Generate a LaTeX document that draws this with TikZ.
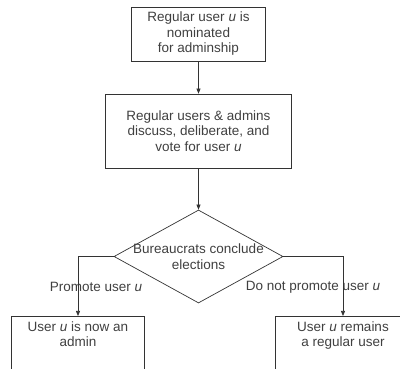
\documentclass[tikz,border=0pt]{standalone}
\usepackage{fontspec}
\setmainfont{Liberation Sans}
\usetikzlibrary{arrows.meta, positioning, shapes.geometric}

\begin{document}
\begin{tikzpicture}[x=1pt,y=-1pt,->,>={Triangle[length=5pt,width=4pt]},draw=black!80,line width=0.7pt]
    \tikzstyle{every node}=[font=\fontsize{13.5}{15.5}\selectfont, text=black!75]
    \tikzstyle{stepbox}=[draw=black!80, rectangle, align=center, inner sep=3pt]
    \tikzstyle{endbox}=[stepbox, anchor=north, inner ysep=5pt, text depth=40pt]
    \tikzstyle{decision}=[draw=black!80, diamond, inner sep=0pt, minimum width=169pt, minimum height=93pt]

    \useasboundingbox (0,0) rectangle (400,369);
    \clip (0,0) rectangle (400,369);

    \node[stepbox, minimum width=134pt, minimum height=54pt] (nom) at (198.5,34) {Regular user \emph{u} is\\nominated\\for adminship};
    \node[stepbox, minimum width=186pt, minimum height=74pt] (vote) at (198.5,131) {Regular users \& admins\\discuss, deliberate, and\\vote for user \emph{u}};
    \node[decision] (bur) at (198.5,256.5) {};
    \node[align=center] (burtxt) at (bur.center) {Bureaucrats conclude\\elections};

    \node[endbox, minimum width=133pt] (adm) at (78,316) {User \emph{u} is now an\\admin};
    \node[endbox, minimum width=136pt] (reg) at (343,316) {User \emph{u} remains\\a regular user};

    \node (yes) at (96,287) {Promote user \emph{u}};
    \node (no) at (313,287) {Do not promote user \emph{u}};

    \path (nom) edge (vote);
    \path (vote) edge (bur);
    \draw (bur.west) -| (adm.north);
    \draw (bur.east) -| (reg.north);
\end{tikzpicture}
\end{document}
